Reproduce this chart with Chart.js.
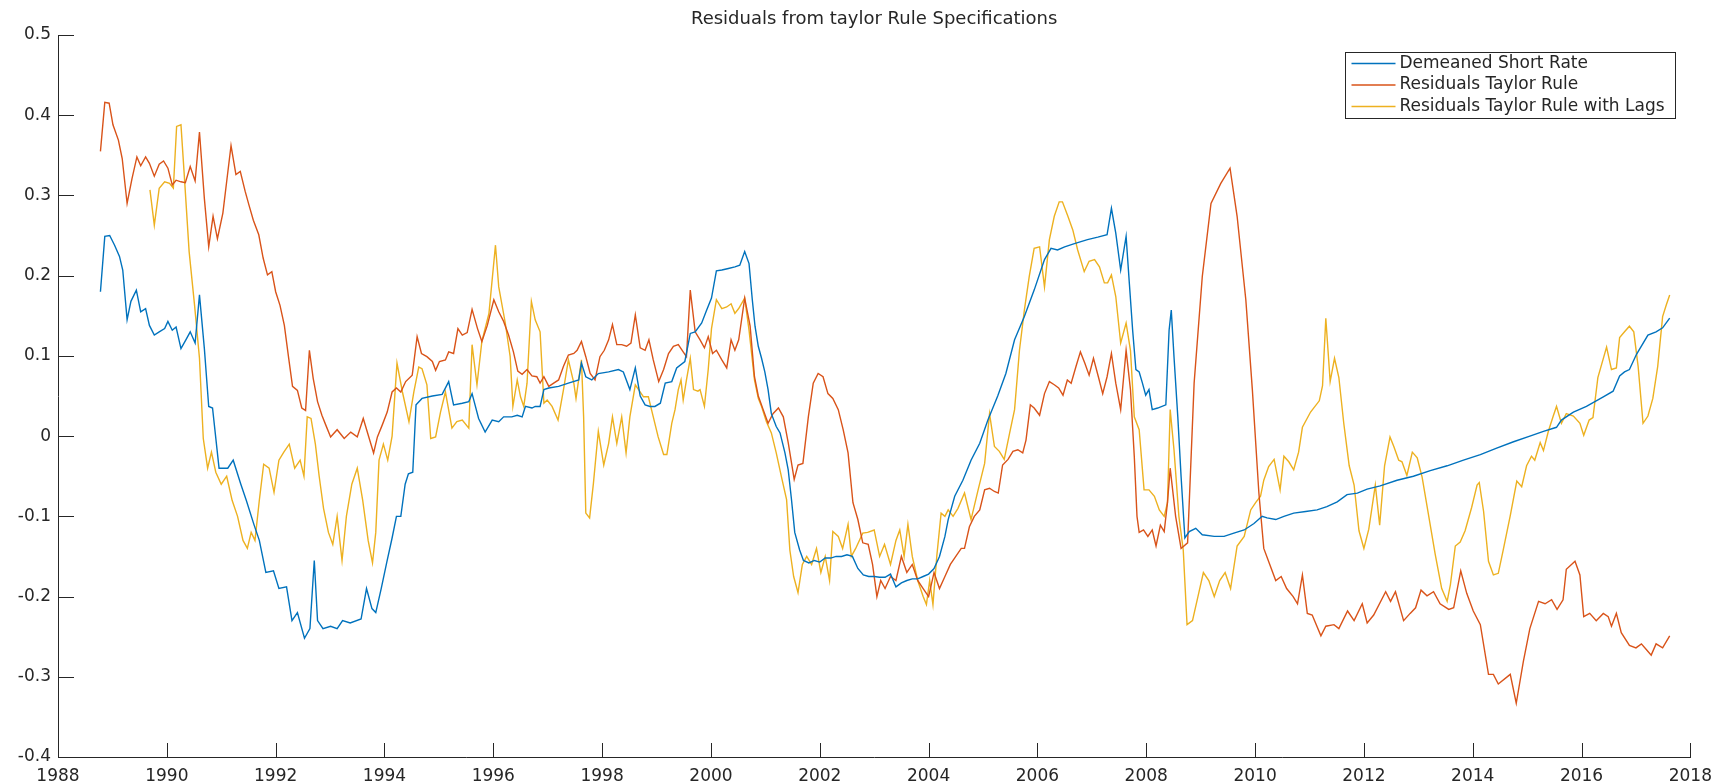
<!DOCTYPE html>
<html lang="en">

<head>
    <meta charset="UTF-8">
    <title>Residuals from taylor Rule Specifications</title>
    <script src="https://cdn.jsdelivr.net/npm/chart.js"></script>
    <style>
        body { margin: 0; background: #fff; }
        #wrap { width: 1721px; height: 784px; position: relative; }
    </style>
</head>

<body>
    <div id="wrap"><canvas id="residualChart"></canvas></div>

    <script>
        const xTicks = [1988, 1990, 1992, 1994, 1996, 1998, 2000, 2002, 2004, 2006, 2008, 2010, 2012, 2014, 2016, 2018];
        const yTicks = [-0.4, -0.3, -0.2, -0.1, 0, 0.1, 0.2, 0.3, 0.4, 0.5];

        const shortRateYears = [
            1988.78, 1988.86, 1988.95, 1989.04, 1989.13, 1989.19, 1989.27, 1989.34, 1989.44, 1989.52, 1989.61, 1989.68, 1989.77, 1989.86, 1989.96,
            1990.02, 1990.10, 1990.17, 1990.26, 1990.35, 1990.43, 1990.52, 1990.60, 1990.69, 1990.77, 1990.84, 1990.96,
            1991.12, 1991.22, 1991.36, 1991.46, 1991.60, 1991.70, 1991.82, 1991.96,
            1992.06, 1992.20, 1992.30, 1992.40, 1992.53, 1992.63, 1992.71, 1992.77, 1992.87,
            1993.01, 1993.13, 1993.23, 1993.37, 1993.57, 1993.67, 1993.77, 1993.84, 1993.94,
            1994.04, 1994.14, 1994.22, 1994.30, 1994.38, 1994.44, 1994.52, 1994.58, 1994.69, 1994.88,
            1995.06, 1995.18, 1995.27, 1995.43, 1995.55, 1995.61, 1995.73, 1995.85, 1995.98,
            1996.10, 1996.19, 1996.34, 1996.44, 1996.53, 1996.59, 1996.71, 1996.77, 1996.86, 1996.93,
            1997.02, 1997.20, 1997.38, 1997.57, 1997.62, 1997.70, 1997.81, 1997.93,
            1998.12, 1998.30, 1998.39, 1998.51, 1998.61, 1998.70, 1998.79, 1998.88, 1998.97,
            1999.07, 1999.16, 1999.28, 1999.37, 1999.52, 1999.62, 1999.71, 1999.83, 1999.92,
            2000.01, 2000.10, 2000.20, 2000.32, 2000.44, 2000.53, 2000.62, 2000.70, 2000.76, 2000.81, 2000.87, 2000.93, 2000.99,
            2001.05, 2001.11, 2001.20, 2001.27, 2001.36, 2001.42, 2001.48, 2001.54, 2001.63, 2001.70, 2001.80, 2001.90,
            2002.00, 2002.10, 2002.20, 2002.30, 2002.40, 2002.50, 2002.60, 2002.70, 2002.80, 2002.90,
            2003.00, 2003.10, 2003.20, 2003.30, 2003.40, 2003.50, 2003.60, 2003.70, 2003.80, 2003.90,
            2004.00, 2004.10, 2004.20, 2004.30, 2004.36, 2004.48, 2004.63, 2004.78, 2004.94,
            2005.09, 2005.27, 2005.42, 2005.58, 2005.76, 2005.94,
            2006.13, 2006.25, 2006.37, 2006.50, 2006.68, 2006.92,
            2007.11, 2007.28, 2007.36, 2007.44, 2007.53, 2007.63, 2007.69, 2007.75, 2007.81, 2007.87, 2007.93, 2007.99,
            2008.05, 2008.11, 2008.21, 2008.36, 2008.42, 2008.46, 2008.51, 2008.58, 2008.64, 2008.71, 2008.79, 2008.91,
            2009.03, 2009.25, 2009.43, 2009.61, 2009.80, 2009.98,
            2010.13, 2010.22, 2010.38, 2010.53, 2010.71, 2010.93,
            2011.14, 2011.32, 2011.51, 2011.69, 2011.88,
            2012.06, 2012.30, 2012.61, 2012.91, 2013.22, 2013.53, 2013.83,
            2014.14, 2014.44, 2014.75, 2015.05, 2015.30, 2015.54, 2015.63, 2015.85,
            2016.09, 2016.40, 2016.58, 2016.70, 2016.79, 2016.88, 2017.01, 2017.22, 2017.37, 2017.49, 2017.62
        ];
        const shortRateValues = [
            0.180, 0.249, 0.250, 0.238, 0.224, 0.207, 0.145, 0.168, 0.182, 0.155, 0.159, 0.138, 0.126, 0.130, 0.134,
            0.143, 0.132, 0.136, 0.109, 0.120, 0.130, 0.116, 0.176, 0.109, 0.037, 0.035, -0.040,
            -0.040, -0.030, -0.060, -0.080, -0.110, -0.130, -0.170, -0.168,
            -0.190, -0.188, -0.230, -0.220, -0.252, -0.240, -0.155, -0.230, -0.240,
            -0.237, -0.240, -0.230, -0.233, -0.228, -0.190, -0.215, -0.220, -0.190,
            -0.158, -0.127, -0.100, -0.100, -0.060, -0.047, -0.045, 0.039, 0.047, 0.050,
            0.052, 0.068, 0.039, 0.041, 0.043, 0.053, 0.022, 0.005, 0.020,
            0.018, 0.024, 0.024, 0.026, 0.024, 0.037, 0.035, 0.037, 0.037, 0.058,
            0.060, 0.062, 0.066, 0.070, 0.091, 0.074, 0.070, 0.078,
            0.080, 0.083, 0.080, 0.058, 0.085, 0.050, 0.039, 0.037, 0.037,
            0.041, 0.066, 0.068, 0.085, 0.093, 0.128, 0.130, 0.141, 0.157,
            0.172, 0.206, 0.207, 0.209, 0.211, 0.213, 0.230, 0.215, 0.170, 0.137, 0.112, 0.097, 0.080,
            0.058, 0.028, 0.012, 0.004, -0.021, -0.042, -0.079, -0.120, -0.142, -0.155, -0.158, -0.155,
            -0.157, -0.152, -0.152, -0.150, -0.150, -0.148, -0.150, -0.165, -0.173, -0.175,
            -0.175, -0.176, -0.176, -0.172, -0.188, -0.183, -0.180, -0.178, -0.178, -0.175,
            -0.172, -0.165, -0.150, -0.125, -0.104, -0.075, -0.055, -0.030, -0.009,
            0.020, 0.050, 0.078, 0.120, 0.149, 0.182,
            0.220, 0.234, 0.232, 0.236, 0.240, 0.245,
            0.248, 0.251, 0.284, 0.253, 0.207, 0.249, 0.190, 0.132, 0.083, 0.080, 0.066, 0.051,
            0.058, 0.033, 0.035, 0.039, 0.132, 0.157, 0.099, 0.024, -0.050, -0.127, -0.119, -0.115,
            -0.123, -0.125, -0.125, -0.121, -0.117, -0.109,
            -0.100, -0.102, -0.104, -0.100, -0.096, -0.094,
            -0.092, -0.088, -0.082, -0.073, -0.071,
            -0.066, -0.062, -0.055, -0.050, -0.043, -0.037, -0.030,
            -0.023, -0.015, -0.007, 0.000, 0.006, 0.011, 0.020, 0.030,
            0.037, 0.049, 0.056, 0.075, 0.080, 0.083, 0.102, 0.126, 0.130, 0.135, 0.147
        ];

        const taylorYears = [
            1988.78, 1988.86, 1988.94, 1989.01, 1989.11, 1989.18, 1989.27, 1989.36, 1989.45, 1989.52, 1989.61, 1989.68, 1989.77, 1989.86, 1989.94,
            1990.02, 1990.10, 1990.17, 1990.26, 1990.34, 1990.43, 1990.52, 1990.60, 1990.69, 1990.77, 1990.85, 1990.93,
            1991.03, 1991.11, 1991.18, 1991.27, 1991.35, 1991.44, 1991.51, 1991.59, 1991.69, 1991.77, 1991.85, 1991.93,
            1992.00, 1992.08, 1992.16, 1992.24, 1992.31, 1992.40, 1992.48, 1992.55, 1992.62, 1992.69, 1992.77, 1992.85, 1992.92,
            1993.01, 1993.13, 1993.26, 1993.38, 1993.50, 1993.61, 1993.72, 1993.80, 1993.87, 1993.96,
            1994.05, 1994.14, 1994.22, 1994.30, 1994.39, 1994.51, 1994.60, 1994.68, 1994.78, 1994.88, 1994.94,
            1995.01, 1995.12, 1995.18, 1995.27, 1995.35, 1995.43, 1995.52, 1995.61, 1995.71, 1995.79, 1995.89,
            1996.01, 1996.10, 1996.19, 1996.28, 1996.37, 1996.45, 1996.53, 1996.62, 1996.71, 1996.80, 1996.86, 1996.93,
            1997.02, 1997.11, 1997.20, 1997.29, 1997.38, 1997.48, 1997.54, 1997.62, 1997.70, 1997.78, 1997.87, 1997.96,
            1998.04, 1998.12, 1998.19, 1998.27, 1998.36, 1998.45, 1998.53, 1998.61, 1998.70, 1998.79, 1998.86, 1998.94,
            1999.04, 1999.13, 1999.22, 1999.31, 1999.40, 1999.49, 1999.55, 1999.62, 1999.71, 1999.80, 1999.88, 1999.95,
            2000.03, 2000.10, 2000.20, 2000.29, 2000.37, 2000.44, 2000.51, 2000.62, 2000.72, 2000.80, 2000.87, 2000.96,
            2001.05, 2001.14, 2001.24, 2001.33, 2001.42, 2001.53, 2001.60, 2001.69, 2001.79, 2001.88, 2001.97,
            2002.06, 2002.15, 2002.24, 2002.34, 2002.43, 2002.52, 2002.61, 2002.70, 2002.79, 2002.89, 2002.97,
            2003.05, 2003.12, 2003.20, 2003.30, 2003.40, 2003.50, 2003.60, 2003.70, 2003.80, 2003.90,
            2004.00, 2004.10, 2004.20, 2004.30, 2004.40, 2004.50, 2004.60, 2004.66, 2004.75, 2004.84, 2004.94,
            2005.03, 2005.12, 2005.21, 2005.28, 2005.36, 2005.46, 2005.55, 2005.64, 2005.73, 2005.79, 2005.87, 2005.94,
            2006.04, 2006.13, 2006.22, 2006.31, 2006.39, 2006.47, 2006.55, 2006.62, 2006.71, 2006.79, 2006.87, 2006.95,
            2007.03, 2007.12, 2007.20, 2007.28, 2007.36, 2007.44, 2007.53, 2007.63, 2007.71, 2007.78, 2007.83, 2007.87, 2007.95,
            2008.03, 2008.11, 2008.18, 2008.26, 2008.33, 2008.39, 2008.44, 2008.54, 2008.64, 2008.76, 2008.88,
            2009.03, 2009.19, 2009.37, 2009.54, 2009.67, 2009.83, 2009.95,
            2010.07, 2010.16, 2010.27, 2010.38, 2010.48, 2010.58, 2010.70, 2010.78, 2010.87, 2010.96,
            2011.05, 2011.21, 2011.30, 2011.45, 2011.54, 2011.70, 2011.82, 2011.97,
            2012.06, 2012.18, 2012.40, 2012.49, 2012.58, 2012.73, 2012.85, 2012.95,
            2013.05, 2013.16, 2013.28, 2013.40, 2013.56, 2013.65, 2013.78, 2013.89,
            2014.01, 2014.14, 2014.29, 2014.38, 2014.47, 2014.69, 2014.80, 2014.93,
            2015.05, 2015.21, 2015.33, 2015.45, 2015.55, 2015.66, 2015.72, 2015.88, 2015.97,
            2016.04, 2016.15, 2016.27, 2016.40, 2016.49, 2016.55, 2016.64, 2016.73, 2016.88,
            2017.00, 2017.10, 2017.19, 2017.28, 2017.37, 2017.49, 2017.62
        ];
        const taylorValues = [
            0.355, 0.416, 0.415, 0.388, 0.369, 0.346, 0.290, 0.321, 0.348, 0.337, 0.348, 0.340, 0.324, 0.339, 0.343,
            0.334, 0.313, 0.319, 0.317, 0.316, 0.336, 0.318, 0.379, 0.296, 0.236, 0.274, 0.246,
            0.278, 0.323, 0.362, 0.326, 0.330, 0.305, 0.288, 0.269, 0.251, 0.222, 0.201, 0.205,
            0.180, 0.163, 0.138, 0.097, 0.062, 0.057, 0.035, 0.032, 0.107, 0.072, 0.043, 0.026, 0.014,
            -0.001, 0.008, -0.003, 0.005, -0.001, 0.022, -0.003, -0.021, -0.001, 0.014,
            0.030, 0.055, 0.060, 0.055, 0.068, 0.076, 0.124, 0.103, 0.099, 0.093, 0.082,
            0.093, 0.095, 0.105, 0.103, 0.134, 0.126, 0.129, 0.158, 0.134, 0.118, 0.138,
            0.170, 0.155, 0.143, 0.126, 0.105, 0.081, 0.077, 0.083, 0.075, 0.074, 0.066, 0.074,
            0.062, 0.066, 0.070, 0.087, 0.101, 0.103, 0.107, 0.118, 0.099, 0.078, 0.070, 0.099,
            0.107, 0.120, 0.139, 0.114, 0.114, 0.112, 0.116, 0.151, 0.110, 0.107, 0.120, 0.095,
            0.068, 0.083, 0.103, 0.112, 0.114, 0.105, 0.099, 0.182, 0.130, 0.120, 0.110, 0.124,
            0.103, 0.107, 0.095, 0.085, 0.120, 0.107, 0.120, 0.172, 0.137, 0.074, 0.050, 0.033,
            0.016, 0.028, 0.035, 0.024, -0.008, -0.054, -0.036, -0.034, 0.024, 0.066, 0.078,
            0.074, 0.053, 0.047, 0.033, 0.008, -0.021, -0.083, -0.104, -0.133, -0.135, -0.160,
            -0.200, -0.180, -0.190, -0.175, -0.180, -0.150, -0.170, -0.160, -0.180, -0.190,
            -0.200, -0.170, -0.190, -0.175, -0.160, -0.150, -0.140, -0.140, -0.113, -0.100, -0.092,
            -0.067, -0.065, -0.069, -0.071, -0.036, -0.029, -0.019, -0.017, -0.021, -0.005, 0.039, 0.035,
            0.026, 0.053, 0.068, 0.064, 0.060, 0.051, 0.070, 0.066, 0.087, 0.105, 0.091, 0.076,
            0.097, 0.074, 0.053, 0.074, 0.103, 0.066, 0.033, 0.107, 0.058, -0.025, -0.100, -0.120, -0.117,
            -0.125, -0.117, -0.137, -0.111, -0.119, -0.083, -0.040, -0.100, -0.140, -0.133, 0.066,
            0.199, 0.290, 0.315, 0.334, 0.274, 0.170, 0.058,
            -0.071, -0.140, -0.160, -0.180, -0.175, -0.190, -0.200, -0.209, -0.173, -0.221,
            -0.223, -0.249, -0.237, -0.235, -0.240, -0.218, -0.230, -0.209,
            -0.233, -0.223, -0.194, -0.206, -0.194, -0.230, -0.221, -0.214,
            -0.192, -0.199, -0.194, -0.209, -0.216, -0.214, -0.168, -0.196,
            -0.218, -0.235, -0.297, -0.297, -0.309, -0.297, -0.333, -0.281,
            -0.240, -0.206, -0.209, -0.204, -0.216, -0.204, -0.166, -0.156, -0.173,
            -0.225, -0.221, -0.230, -0.221, -0.225, -0.237, -0.221, -0.245, -0.261,
            -0.264, -0.259, -0.266, -0.273, -0.259, -0.264, -0.249
        ];

        const lagsYears = [
            1989.69, 1989.77, 1989.86, 1989.96, 1990.05, 1990.12, 1990.18, 1990.26, 1990.32, 1990.41, 1990.51, 1990.60, 1990.67, 1990.75, 1990.82, 1990.90,
            1991.00, 1991.10, 1991.20, 1991.30, 1991.40, 1991.48, 1991.55, 1991.62, 1991.70, 1991.78, 1991.88, 1991.97,
            1992.06, 1992.15, 1992.25, 1992.35, 1992.45, 1992.52, 1992.58, 1992.65, 1992.73, 1992.80, 1992.88, 1992.97,
            1993.05, 1993.13, 1993.22, 1993.30, 1993.40, 1993.50, 1993.60, 1993.70, 1993.78, 1993.84, 1993.90, 1993.98,
            1994.06, 1994.14, 1994.23, 1994.33, 1994.45, 1994.54, 1994.63, 1994.69, 1994.78, 1994.85, 1994.94,
            1995.03, 1995.12, 1995.24, 1995.33, 1995.43, 1995.55, 1995.61, 1995.70, 1995.79, 1995.92,
            1996.04, 1996.10, 1996.22, 1996.31, 1996.36, 1996.44, 1996.50, 1996.56, 1996.62, 1996.70, 1996.77, 1996.86, 1996.93, 1996.99,
            1997.08, 1997.19, 1997.29, 1997.38, 1997.48, 1997.52, 1997.62, 1997.66, 1997.70, 1997.77, 1997.84, 1997.93,
            1998.03, 1998.12, 1998.19, 1998.27, 1998.36, 1998.44, 1998.51, 1998.61, 1998.67, 1998.76, 1998.85, 1998.94,
            1999.03, 1999.13, 1999.19, 1999.28, 1999.34, 1999.40, 1999.45, 1999.49, 1999.55, 1999.62, 1999.68, 1999.76, 1999.80, 1999.88, 1999.95,
            2000.01, 2000.10, 2000.20, 2000.29, 2000.37, 2000.44, 2000.51, 2000.62, 2000.70, 2000.80, 2000.87, 2000.93,
            2001.02, 2001.11, 2001.20, 2001.30, 2001.39, 2001.45, 2001.52, 2001.60, 2001.68, 2001.76, 2001.85, 2001.94,
            2002.02, 2002.10, 2002.18, 2002.24, 2002.34, 2002.42, 2002.52, 2002.58, 2002.66, 2002.79, 2002.88,
            2003.00, 2003.10, 2003.19, 2003.30, 2003.40, 2003.47, 2003.55, 2003.62, 2003.70, 2003.80, 2003.90, 2003.96,
            2004.02, 2004.08, 2004.15, 2004.23, 2004.30, 2004.36, 2004.45, 2004.54, 2004.66, 2004.78, 2004.91,
            2005.03, 2005.12, 2005.21, 2005.30, 2005.39, 2005.49, 2005.58, 2005.67, 2005.76, 2005.85, 2005.94,
            2006.04, 2006.13, 2006.22, 2006.31, 2006.40, 2006.46, 2006.56, 2006.65, 2006.74, 2006.86, 2006.95,
            2007.05, 2007.14, 2007.23, 2007.29, 2007.36, 2007.44, 2007.53, 2007.63, 2007.71, 2007.78, 2007.87, 2007.96,
            2008.05, 2008.15, 2008.24, 2008.33, 2008.39, 2008.44, 2008.51, 2008.60, 2008.68, 2008.75, 2008.85, 2008.95,
            2009.05, 2009.15, 2009.25, 2009.35, 2009.45, 2009.55, 2009.67, 2009.80, 2009.92,
            2010.01, 2010.10, 2010.16, 2010.25, 2010.35, 2010.46, 2010.53, 2010.62, 2010.71, 2010.80, 2010.87,
            2011.02, 2011.18, 2011.24, 2011.30, 2011.38, 2011.46, 2011.54, 2011.63, 2011.73, 2011.82, 2011.91,
            2012.00, 2012.09, 2012.21, 2012.29, 2012.38, 2012.48, 2012.55, 2012.64, 2012.70, 2012.79, 2012.89, 2012.98,
            2013.07, 2013.19, 2013.31, 2013.43, 2013.53, 2013.59, 2013.68, 2013.77, 2013.86, 2013.98,
            2014.08, 2014.12, 2014.20, 2014.29, 2014.38, 2014.47, 2014.56, 2014.69, 2014.81, 2014.90, 2014.99,
            2015.08, 2015.14, 2015.24, 2015.30, 2015.39, 2015.48, 2015.54, 2015.63, 2015.72, 2015.85, 2015.97,
            2016.04, 2016.14, 2016.21, 2016.30, 2016.46, 2016.55, 2016.64, 2016.70, 2016.79, 2016.88, 2016.96,
            2017.04, 2017.13, 2017.22, 2017.31, 2017.40, 2017.49, 2017.56, 2017.62
        ];
        const lagsValues = [
            0.307, 0.263, 0.309, 0.317, 0.315, 0.309, 0.386, 0.388, 0.326, 0.230, 0.163, 0.097, -0.003, -0.040, -0.020, -0.045,
            -0.060, -0.050, -0.080, -0.100, -0.130, -0.140, -0.120, -0.130, -0.080, -0.035, -0.040, -0.070,
            -0.030, -0.020, -0.010, -0.040, -0.030, -0.050, 0.024, 0.022, -0.010, -0.050, -0.090, -0.120,
            -0.135, -0.100, -0.155, -0.100, -0.060, -0.040, -0.080, -0.130, -0.158, -0.120, -0.030, -0.010,
            -0.030, 0.000, 0.091, 0.055, 0.018, 0.055, 0.086, 0.084, 0.064, -0.003, -0.001,
            0.030, 0.055, 0.010, 0.018, 0.020, 0.010, 0.114, 0.064, 0.118, 0.153,
            0.238, 0.186, 0.141, 0.099, 0.037, 0.070, 0.049, 0.037, 0.066, 0.168, 0.145, 0.130, 0.041, 0.045,
            0.037, 0.020, 0.058, 0.095, 0.066, 0.047, 0.095, 0.024, -0.096, -0.102, -0.059, 0.006,
            -0.036, -0.009, 0.024, -0.009, 0.024, -0.021, 0.024, 0.064, 0.058, 0.049, 0.049, 0.024,
            -0.001, -0.023, -0.023, 0.016, 0.033, 0.058, 0.070, 0.045, 0.070, 0.097, 0.058, 0.056, 0.058, 0.037, 0.083,
            0.134, 0.170, 0.159, 0.161, 0.165, 0.153, 0.159, 0.172, 0.132, 0.070, 0.047, 0.037,
            0.018, 0.004, -0.021, -0.052, -0.079, -0.142, -0.175, -0.195, -0.160, -0.150, -0.160, -0.140,
            -0.170, -0.150, -0.180, -0.119, -0.125, -0.140, -0.110, -0.150, -0.140, -0.121, -0.120,
            -0.117, -0.150, -0.135, -0.160, -0.130, -0.117, -0.150, -0.110, -0.150, -0.180, -0.200, -0.210,
            -0.180, -0.210, -0.150, -0.096, -0.100, -0.092, -0.100, -0.090, -0.071, -0.104, -0.067,
            -0.034, 0.028, -0.013, -0.019, -0.029, 0.004, 0.033, 0.107, 0.157, 0.199, 0.234,
            0.236, 0.186, 0.245, 0.274, 0.292, 0.292, 0.274, 0.257, 0.232, 0.205, 0.218,
            0.220, 0.211, 0.191, 0.191, 0.201, 0.174, 0.116, 0.141, 0.107, 0.024, 0.008, -0.067,
            -0.067, -0.075, -0.092, -0.100, -0.083, 0.033, -0.017, -0.100, -0.142, -0.235, -0.230, -0.200,
            -0.170, -0.180, -0.200, -0.180, -0.170, -0.190, -0.137, -0.125, -0.092,
            -0.083, -0.075, -0.055, -0.038, -0.029, -0.067, -0.025, -0.032, -0.042, -0.020, 0.011,
            0.030, 0.044, 0.063, 0.147, 0.068, 0.097, 0.073, 0.016, -0.037, -0.061, -0.118,
            -0.140, -0.116, -0.061, -0.111, -0.037, -0.001, -0.013, -0.030, -0.032, -0.049, -0.020, -0.027,
            -0.051, -0.099, -0.147, -0.190, -0.206, -0.185, -0.137, -0.132, -0.118, -0.089,
            -0.061, -0.058, -0.094, -0.156, -0.173, -0.171, -0.142, -0.099, -0.056, -0.063, -0.037,
            -0.025, -0.030, -0.008, -0.018, 0.006, 0.025, 0.037, 0.016, 0.028, 0.025, 0.016,
            0.001, 0.020, 0.023, 0.073, 0.111, 0.083, 0.085, 0.123, 0.130, 0.137, 0.130,
            0.087, 0.016, 0.025, 0.047, 0.087, 0.149, 0.164, 0.176
        ];

        const seriesLabels = ['Demeaned Short Rate', 'Residuals Taylor Rule', 'Residuals Taylor Rule with Lags'];
        const seriesColors = ['#0072BD', '#D95319', '#EDB120'];

        const textColor = '#262626';
        const toPoints = (xs, ys) => xs.map((x, i) => ({ x: x, y: ys[i] }));

        // MATLAB-style ticks pointing into the plot, plus the boxed legend
        const matlabDecor = {
            id: 'matlabDecor',
            afterDraw(chart) {
                const ctx = chart.ctx;
                const area = chart.chartArea;
                const xs = chart.scales.x, ys = chart.scales.y;
                ctx.save();
                ctx.strokeStyle = textColor;
                ctx.lineWidth = 1;
                ctx.beginPath();
                xTicks.forEach(v => {
                    const px = Math.round(xs.getPixelForValue(v)) + 0.5;
                    ctx.moveTo(px, area.bottom);
                    ctx.lineTo(px, area.bottom - 14);
                });
                yTicks.forEach(v => {
                    const py = Math.round(ys.getPixelForValue(v)) + 0.5;
                    ctx.moveTo(area.left, py);
                    ctx.lineTo(area.left + 16, py);
                });
                ctx.stroke();

                // legend
                const boxW = 330, boxH = 66;
                const bx = Math.round(area.right - 15 - boxW) + 0.5;
                const by = Math.round(area.top + 17) + 0.5;
                ctx.fillStyle = '#fff';
                ctx.fillRect(bx, by, boxW, boxH);
                ctx.strokeStyle = '#262626';
                ctx.strokeRect(bx, by, boxW, boxH);
                ctx.font = '17px "DejaVu Sans"';
                ctx.textBaseline = 'middle';
                ctx.textAlign = 'left';
                chart.data.datasets.forEach((ds, i) => {
                    const cy = by + 11 + i * 21.5;
                    ctx.strokeStyle = ds.borderColor;
                    ctx.lineWidth = 1.5;
                    ctx.beginPath();
                    ctx.moveTo(bx + 6, cy);
                    ctx.lineTo(bx + 50, cy);
                    ctx.stroke();
                    ctx.fillStyle = textColor;
                    ctx.fillText(ds.label, bx + 54, cy);
                });
                ctx.restore();
            }
        };

        const ctx = document.getElementById('residualChart').getContext('2d');
        const chart = new Chart(ctx, {
            type: 'line',
            data: {
                datasets: [
                    { label: seriesLabels[0], data: toPoints(shortRateYears, shortRateValues), borderColor: seriesColors[0] },
                    { label: seriesLabels[1], data: toPoints(taylorYears, taylorValues), borderColor: seriesColors[1] },
                    { label: seriesLabels[2], data: toPoints(lagsYears, lagsValues), borderColor: seriesColors[2] }
                ]
            },
            options: {
                responsive: true,
                maintainAspectRatio: false,
                animation: false,
                datasets: {
                    line: { borderWidth: 1.4, pointRadius: 0, tension: 0, fill: false }
                },
                layout: { padding: { left: 0, right: 27, top: 0, bottom: 0 } },
                scales: {
                    x: {
                        type: 'linear',
                        min: xTicks[0],
                        max: xTicks[xTicks.length - 1],
                        afterBuildTicks: s => { s.ticks = xTicks.map(v => ({ value: v })); },
                        afterFit: s => { s.height = 27; },
                        grid: { display: false, drawTicks: false },
                        border: { display: true, color: textColor, width: 1 },
                        ticks: {
                            autoSkip: false,
                            maxRotation: 0,
                            padding: 9,
                            color: textColor,
                            font: { family: 'DejaVu Sans', size: 17 },
                            callback: v => String(v)
                        }
                    },
                    y: {
                        min: yTicks[0],
                        max: yTicks[yTicks.length - 1],
                        afterBuildTicks: s => { s.ticks = yTicks.map(v => ({ value: v })); },
                        afterFit: s => { s.width = 58; },
                        grid: { display: false, drawTicks: false },
                        border: { display: true, color: textColor, width: 1 },
                        ticks: {
                            padding: 7,
                            color: textColor,
                            font: { family: 'DejaVu Sans', size: 17 },
                            callback: v => String(Math.round(v * 10) / 10)
                        }
                    }
                },
                plugins: {
                    legend: { display: false },
                    tooltip: { enabled: false },
                    title: {
                        display: true,
                        fullSize: false,
                        text: 'Residuals from taylor Rule Specifications',
                        color: textColor,
                        font: { family: 'DejaVu Sans', size: 18, weight: 'normal' },
                        padding: { top: 9, bottom: 4.4 }
                    }
                }
            },
            plugins: [matlabDecor]
        });
    </script>
</body>

</html>
